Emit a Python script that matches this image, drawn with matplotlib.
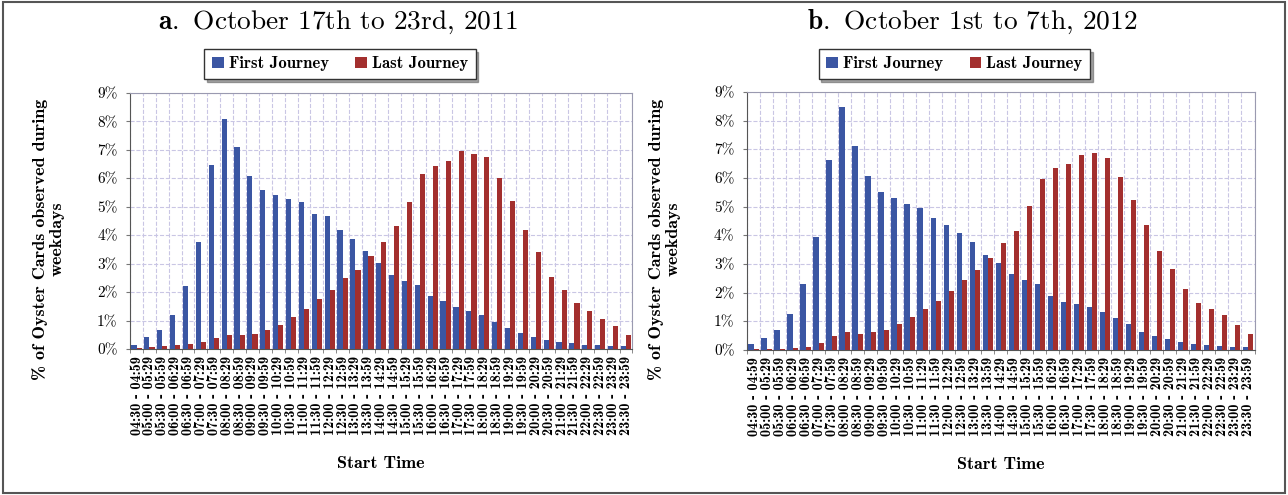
import matplotlib
matplotlib.use('Agg')
import matplotlib.pyplot as plt
from matplotlib.patches import Rectangle
import numpy as np

plt.rcParams['mathtext.fontset'] = 'cm'
plt.rcParams['axes.formatter.use_mathtext'] = True

# Half-hour start time slots (x axis categories)
time_slots = [
    '04:30 - 04:59', '05:00 - 05:29', '05:30 - 05:59', '06:00 - 06:29',
    '06:30 - 06:59', '07:00 - 07:29', '07:30 - 07:59', '08:00 - 08:29',
    '08:30 - 08:59', '09:00 - 09:29', '09:30 - 09:59', '10:00 - 10:29',
    '10:30 - 10:59', '11:00 - 11:29', '11:30 - 11:59', '12:00 - 12:29',
    '12:30 - 12:59', '13:00 - 13:29', '13:30 - 13:59', '14:00 - 14:29',
    '14:30 - 14:59', '15:00 - 15:29', '15:30 - 15:59', '16:00 - 16:29',
    '16:30 - 16:59', '17:00 - 17:29', '17:30 - 17:59', '18:00 - 18:29',
    '18:30 - 18:59', '19:00 - 19:29', '19:30 - 19:59', '20:00 - 20:29',
    '20:30 - 20:59', '21:00 - 21:29', '21:30 - 21:59', '22:00 - 22:29',
    '22:30 - 22:59', '23:00 - 23:29', '23:30 - 23:59',
]
y_ticks = [0, 1, 2, 3, 4, 5, 6, 7, 8, 9]

# a. October 17th to 23rd, 2011 (% of cards)
first_2011 = [0.15, 0.41, 0.68, 1.21, 2.23, 3.75, 6.48, 8.10, 7.09, 6.07,
              5.60, 5.43, 5.28, 5.16, 4.76, 4.69, 4.20, 3.88, 3.43, 3.02,
              2.61, 2.40, 2.24, 1.88, 1.68, 1.47, 1.35, 1.21, 0.95, 0.74,
              0.56, 0.41, 0.30, 0.25, 0.21, 0.15, 0.13, 0.09, 0.09]
last_2011 = [0.02, 0.06, 0.09, 0.13, 0.18, 0.26, 0.39, 0.50, 0.50, 0.54,
             0.66, 0.83, 1.13, 1.41, 1.76, 2.06, 2.50, 2.79, 3.28, 3.76,
             4.31, 5.17, 6.17, 6.42, 6.60, 6.95, 6.87, 6.74, 6.01, 5.22,
             4.20, 3.40, 2.53, 2.06, 1.62, 1.32, 1.07, 0.80, 0.50]

# b. October 1st to 7th, 2012
first_2012 = [0.20, 0.41, 0.70, 1.24, 2.30, 3.93, 6.62, 8.47, 7.12, 6.08,
              5.52, 5.31, 5.09, 4.97, 4.60, 4.36, 4.09, 3.76, 3.31, 3.05,
              2.64, 2.44, 2.31, 1.90, 1.66, 1.60, 1.49, 1.34, 1.13, 0.91,
              0.64, 0.47, 0.38, 0.27, 0.21, 0.17, 0.14, 0.12, 0.09]
last_2012 = [0.02, 0.04, 0.05, 0.08, 0.12, 0.23, 0.49, 0.64, 0.56, 0.63,
             0.70, 0.90, 1.14, 1.42, 1.71, 2.07, 2.44, 2.79, 3.22, 3.72,
             4.16, 5.03, 5.95, 6.34, 6.49, 6.80, 6.86, 6.69, 6.02, 5.23,
             4.36, 3.47, 2.81, 2.13, 1.63, 1.42, 1.22, 0.87, 0.55]

BLUE = '#3b56a3'
RED = '#a32f2e'
GRID = '#c9c6e4'


def draw_panel(ax, first, last):
    x = np.arange(len(time_slots))
    ax.bar(x - 0.2, first, width=0.4, color=BLUE, label='First Journey', zorder=3)
    ax.bar(x + 0.2, last, width=0.4, color=RED, label='Last Journey', zorder=3)

    ax.set_xlim(-0.5, len(time_slots) - 0.5)
    ax.set_ylim(0, 9)
    ax.set_yticks(y_ticks)
    ax.set_yticklabels([f'{v}%' for v in y_ticks], family='cmr10', fontsize=11)
    ax.set_xticks(x)
    ax.set_xticklabels(time_slots, rotation=90, family='cmb10', fontsize=10.2)
    ax.set_xticks(np.arange(-0.5, len(time_slots)), minor=True)
    ax.tick_params(axis='x', which='major', length=0, pad=5)
    ax.tick_params(axis='x', which='minor', length=3, color='#777777')
    ax.tick_params(axis='y', length=3, color='#777777', pad=6)

    ax.grid(axis='x', which='minor', ls='--', lw=0.8, color=GRID)
    ax.grid(axis='y', which='major', ls='--', lw=0.8, color=GRID)
    ax.set_axisbelow(True)
    for side in ['top', 'right']:
        ax.spines[side].set_color('#9a9ab0')
    ax.spines['left'].set_color('#555555')
    ax.spines['bottom'].set_color('#555555')

    ax.set_ylabel('% of Oyster Cards observed during\nweekdays',
                  family='cmb10', fontsize=13, linespacing=1.15)
    ax.yaxis.set_label_coords(-0.13, 0.43)
    ax.set_xlabel('Start Time', family='cmb10', fontsize=13, labelpad=15)


fig = plt.figure(figsize=(12.88, 4.95), dpi=100)

ax_a = fig.add_axes([0.101, 0.295, 0.390, 0.517])
draw_panel(ax_a, first_2011, last_2011)
ax_b = fig.add_axes([0.580, 0.293, 0.394, 0.521])
draw_panel(ax_b, first_2012, last_2012)

fig.text(0.262, 0.955, r'$\mathbf{a.}$ October 17th to 23rd, 2011',
         family='cmr10', fontsize=19.7, ha='center', va='center')
fig.text(0.755, 0.955, r'$\mathbf{b.}$ October 1st to 7th, 2012',
         family='cmr10', fontsize=19.7, ha='center', va='center')

for ax, cx in [(ax_a, 0.264), (ax_b, 0.741)]:
    handles, labels = ax.get_legend_handles_labels()
    fig.legend(handles, labels, loc='center', bbox_to_anchor=(cx, 0.871),
               ncol=2, frameon=True, fancybox=False, shadow=True,
               edgecolor='#333333', handlelength=0.7, handleheight=0.7,
               handletextpad=0.3, columnspacing=1.6, borderpad=0.45,
               prop={'family': 'cmb10', 'size': 12})

fig.patches.append(Rectangle((0.002, 0.004), 0.996, 0.992, transform=fig.transFigure,
                             fill=False, edgecolor='#555555', lw=1.5))

fig.savefig('out.png', dpi=100)
